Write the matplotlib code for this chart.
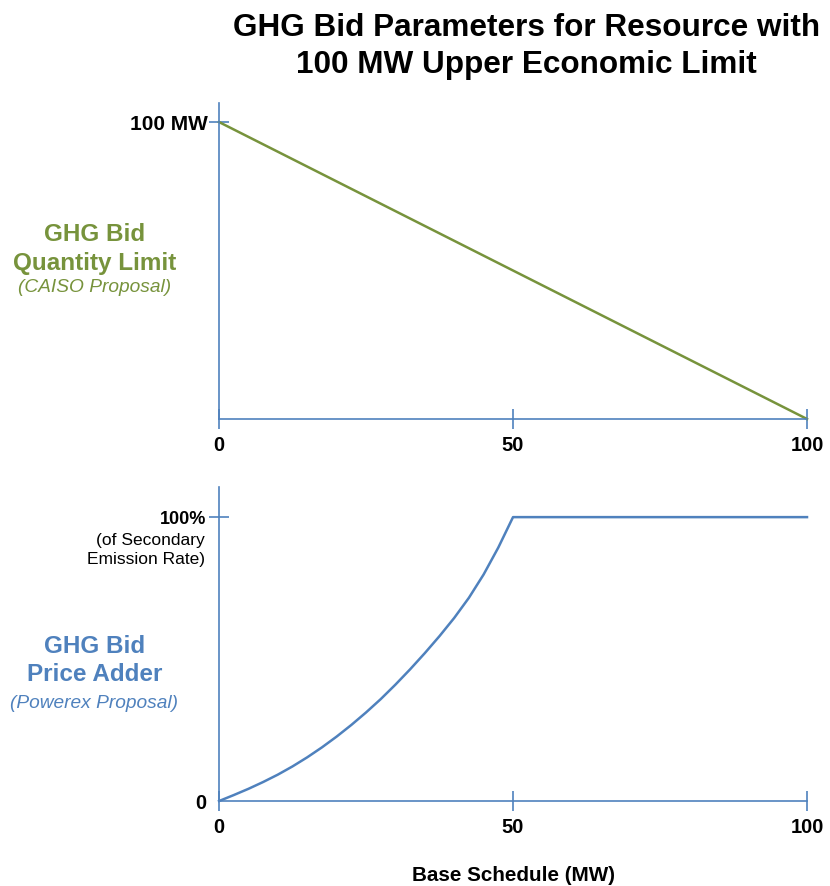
import matplotlib.pyplot as plt

plt.rcParams['font.family'] = ['Liberation Sans', 'DejaVu Sans']

green = "#77933C"
blue = "#4F81BD"

# top panel: quantity limit falls linearly with base schedule
qty_x = [0, 100]
qty_y = [100, 0]

# bottom panel: price adder (% of secondary emission rate)
adder_x = [0, 2.5, 5, 7.5, 10, 12.5, 15, 17.5, 20, 22.5, 25, 27.5, 30,
           32.5, 35, 37.5, 40, 42.5, 45, 47.5, 50, 100]
adder_y = [0, 2.1, 4.3, 6.7, 9.3, 12.2, 15.4, 18.9, 22.7, 26.8, 31.2, 35.9, 41.0,
           46.4, 52.1, 58.1, 64.5, 71.6, 79.8, 89.3, 100, 100]

x_ticks = [0, 50, 100]
x_labels = ["0", "50", "100"]

fig = plt.figure(figsize=(8.3, 8.86), dpi=100)

ax1 = fig.add_axes([0.2639, 0.5271, 0.7084, 0.3566])
ax2 = fig.add_axes([0.2639, 0.0959, 0.7084, 0.3544])

for ax in (ax1, ax2):
    ax.spines["top"].set_visible(False)
    ax.spines["right"].set_visible(False)
    ax.spines["left"].set_color(blue)
    ax.spines["bottom"].set_color(blue)
    ax.spines["left"].set_linewidth(1.2)
    ax.spines["bottom"].set_linewidth(1.2)
    ax.set_xlim(0, 100)
    ax.set_xticks(x_ticks)
    ax.set_xticklabels(x_labels, fontsize=14.5, fontweight="bold")
    ax.tick_params(axis="both", direction="inout", length=14.4, width=1.2,
                   color=blue)
    ax.tick_params(axis="x", pad=5)
    ax.set_facecolor("none")

ax1.plot(qty_x, qty_y, color=green, lw=1.8, clip_on=False)
ax1.set_ylim(0, 106.4)
ax1.set_yticks([100])
ax1.set_yticklabels(["100 MW"], fontsize=15, fontweight="bold")
ax1.tick_params(axis="y", pad=1)

ax2.plot(adder_x, adder_y, color=blue, lw=1.8, clip_on=False)
ax2.set_ylim(0, 110.6)
ax2.set_yticks([0, 100])
ax2.set_yticklabels(["0", "100%"], fontweight="bold")
ylabs = ax2.get_yticklabels()
ylabs[0].set_fontsize(14.5)
ylabs[1].set_fontsize(13)
ax2.tick_params(axis="y", pad=2)
ax2.get_yticklines()[0].set_visible(False)
ax2.get_yticklines()[1].set_visible(False)

fig.text(0.247, 0.3792, "(of Secondary\nEmission Rate)", ha="right", va="center",
         fontsize=12.5, linespacing=1.3)

fig.text(0.634, 0.985, "GHG Bid Parameters for Resource with\n100 MW Upper Economic Limit",
         ha="center", va="top", fontsize=22.7, fontweight="bold", linespacing=1.3)

fig.text(0.1135, 0.719, "GHG Bid\nQuantity Limit", ha="center", va="center",
         fontsize=17.5, fontweight="bold", color=green, linespacing=1.3)
fig.text(0.1135, 0.675, "(CAISO Proposal)", ha="center", va="center",
         fontsize=13.8, style="italic", color=green)

fig.text(0.1135, 0.2545, "GHG Bid\nPrice Adder", ha="center", va="center",
         fontsize=17.5, fontweight="bold", color=blue, linespacing=1.3)
fig.text(0.1135, 0.2065, "(Powerex Proposal)", ha="center", va="center",
         fontsize=13.8, style="italic", color=blue)

fig.text(0.619, 0.0124, "Base Schedule (MW)", ha="center", va="center",
         fontsize=14.9, fontweight="bold")

fig.savefig("out.png", dpi=100, facecolor="white")
